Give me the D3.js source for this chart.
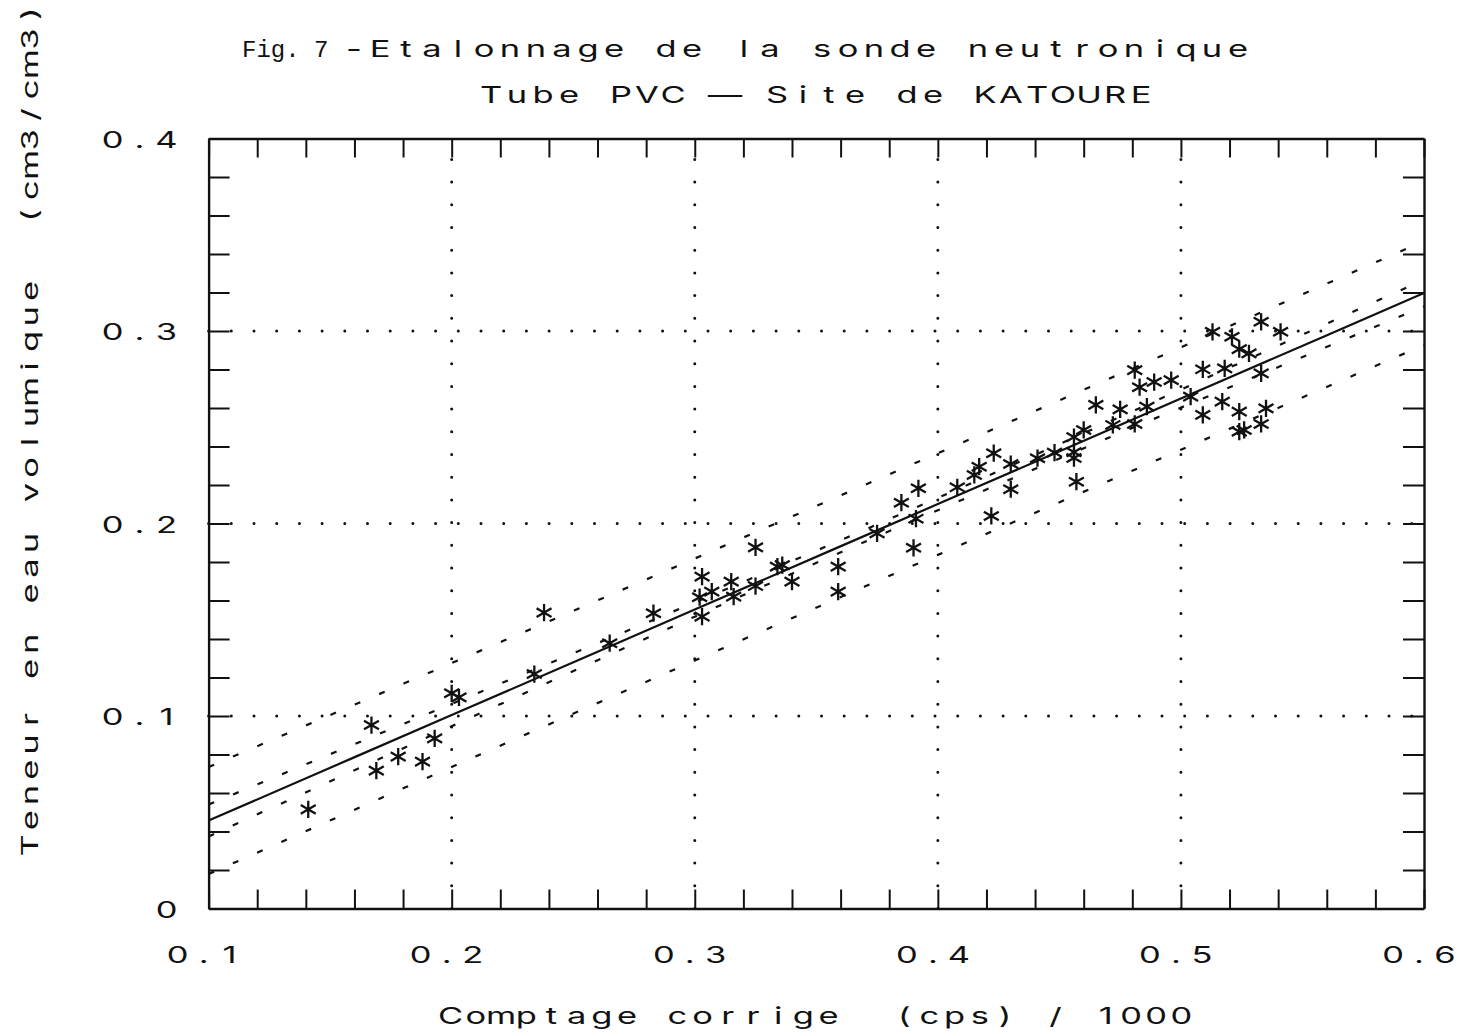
<!DOCTYPE html>
<html><head><meta charset="utf-8">
<script src="https://cdn.jsdelivr.net/npm/d3@7"></script>
<style>body{margin:0;background:#fff} svg{display:block} text{white-space:pre}</style>
</head><body>
<svg id="c" width="1462" height="1034"></svg>
<script>
// ---- data ----
const pointX = [0.141,0.167,0.169,0.178,0.188,0.193,0.200,0.203,0.238,0.234,
  0.265,0.283,0.303,0.302,0.303,0.307,0.315,0.316,0.325,0.325,
  0.334,0.336,0.340,0.359,0.359,0.375,0.385,0.392,0.391,0.390,
  0.408,0.415,0.417,0.423,0.430,0.430,0.422,0.441,0.448,0.456,
  0.456,0.456,0.457,0.460,0.465,0.475,0.472,0.481,0.481,0.483,
  0.489,0.496,0.486,0.504,0.509,0.509,0.513,0.521,0.524,0.528,
  0.518,0.517,0.524,0.524,0.526,0.533,0.541,0.533,0.535,0.533];
const pointY = [0.0515,0.0953,0.0716,0.0789,0.0763,0.0884,0.1118,0.1097,0.1537,0.1218,
  0.1378,0.1534,0.1724,0.1617,0.1516,0.1646,0.1698,0.1620,0.1675,0.1876,
  0.1776,0.1784,0.1698,0.1776,0.1646,0.1949,0.2108,0.2183,0.2025,0.1874,
  0.2188,0.2252,0.2295,0.2365,0.2309,0.2178,0.2039,0.2339,0.2368,0.2449,
  0.2371,0.2340,0.2217,0.2486,0.2616,0.2593,0.2512,0.2517,0.2797,0.2708,
  0.2735,0.2745,0.2607,0.2659,0.2801,0.2564,0.2996,0.2970,0.2906,0.2884,
  0.2806,0.2633,0.2581,0.2477,0.2486,0.3048,0.2996,0.2780,0.2598,0.2517];

const bandX      = [0.1, 0.2, 0.3, 0.4, 0.5, 0.6];
const fitY       = [0.0457, 0.1005, 0.1553, 0.2101, 0.2649, 0.3197];
const upperOuter = [0.0735, 0.1275, 0.1818, 0.2365, 0.2915, 0.3467];
const upperInner = [0.0540, 0.1063, 0.1590, 0.2133, 0.2696, 0.3267];
const lowerInner = [0.0374, 0.0947, 0.1516, 0.2069, 0.2602, 0.3127];
const lowerOuter = [0.0179, 0.0735, 0.1288, 0.1837, 0.2383, 0.2927];

const xTickValues = [0.1, 0.2, 0.3, 0.4, 0.5, 0.6];
const xTickLabels = ["0.1", "0.2", "0.3", "0.4", "0.5", "0.6"];
const yTickValues = [0, 0.1, 0.2, 0.3, 0.4];
const yTickLabels = ["0", "0.1", "0.2", "0.3", "0.4"];
const xGrid = [0.2, 0.3, 0.4, 0.5];
const yGrid = [0.1, 0.2, 0.3];

const titleFig = "Fig. 7";
const title1 = "-Etalonnage de la sonde neutronique";
const title2 = "Tube PVC \u2014 Site de KATOURE";
const xTitle = "Comptage corrige  (cps) / 1000";
const yTitle = "Teneur en eau volumique  (cm3/cm3)";

// ---- layout ----
const L = 208.6, R = 1424, T = 138.5, B = 908.5;
const svg = d3.select("#c");
const x = d3.scaleLinear().domain([0.1, 0.6]).range([L, R]);
const y = d3.scaleLinear().domain([0, 0.4]).range([B, T]);

// plotter-like text: one character per fixed-width cell
const FS = 23, SX = 1.5;
function ptext(str, x0, y0, adv, rot) {
  const g = svg.append("g")
    .attr("transform", `translate(${x0},${y0})${rot ? " rotate(-90)" : ""}`);
  g.selectAll("text").data(Array.from(str)).join("text")
    .attr("transform", (c, i) => `translate(${(i + 0.5) * adv},0) scale(${SX},1)`)
    .attr("text-anchor", "middle")
    .attr("font-family", "Inter, 'Open Sans', 'DejaVu Sans', sans-serif")
    .attr("font-weight", 400)
    .attr("font-size", FS)
    .attr("fill", "#111")
    .text(c => c);
  return g;
}

// grid (dotted)
const gridG = svg.append("g");
gridG.selectAll("line.vx").data(xGrid).join("line")
  .attr("class", "vx")
  .attr("x1", d => x(d)).attr("x2", d => x(d)).attr("y1", y(0)).attr("y2", y(0.4));
gridG.selectAll("line.hy").data(yGrid).join("line")
  .attr("class", "hy")
  .attr("x1", x(0.1)).attr("x2", x(0.6)).attr("y1", d => y(d)).attr("y2", d => y(d));
gridG.selectAll("line")
  .attr("stroke", "#111").attr("stroke-width", 3)
  .attr("stroke-linecap", "round").attr("stroke-dasharray", "0,22.7");

// axes with inward minor ticks
function styleAxis(g) {
  g.selectAll("path.domain").attr("stroke", "#111").attr("stroke-width", 2.4);
  g.selectAll(".tick line").attr("stroke", "#111").attr("stroke-width", 2);
  g.selectAll(".tick text").remove();
}
const xMinor = x.ticks(25), yMinor = y.ticks(20);
svg.append("g").attr("transform", `translate(0,${B})`)
  .call(d3.axisBottom(x).tickValues(xMinor).tickSize(-19).tickSizeOuter(0).tickFormat(""))
  .call(styleAxis);
svg.append("g").attr("transform", `translate(0,${T})`)
  .call(d3.axisTop(x).tickValues(xMinor).tickSize(-19).tickSizeOuter(0).tickFormat(""))
  .call(styleAxis);
svg.append("g").attr("transform", `translate(${L},0)`)
  .call(d3.axisLeft(y).tickValues(yMinor).tickSize(-21).tickSizeOuter(0).tickFormat(""))
  .call(styleAxis);
svg.append("g").attr("transform", `translate(${R},0)`)
  .call(d3.axisRight(y).tickValues(yMinor).tickSize(-21).tickSizeOuter(0).tickFormat(""))
  .call(styleAxis);

// bands (dashed)
const bandLine = vals => d3.line().curve(d3.curveNatural)
  .x((d, i) => x(bandX[i])).y(d => y(d))(vals);
[upperOuter, upperInner, lowerInner, lowerOuter].forEach(vals => {
  svg.append("path").attr("d", bandLine(vals))
    .attr("fill", "none").attr("stroke", "#111").attr("stroke-width", 2.2)
    .attr("stroke-dasharray", "6,20.5");
});
// fitted line
svg.append("path").attr("d", bandLine(fitY))
  .attr("fill", "none").attr("stroke", "#111").attr("stroke-width", 2.2);

// points (asterisks)
const sym = d3.symbol(d3.symbolAsterisk, 210);
svg.append("g").selectAll("path").data(pointX).join("path")
  .attr("transform", (d, i) => `translate(${x(d)},${y(pointY[i])})`)
  .attr("d", sym)
  .attr("fill", "none").attr("stroke", "#111").attr("stroke-width", 2.3);

// tick labels
xTickValues.forEach((v, i) => {
  const s = xTickLabels[i], adv = 26;
  ptext(s, x(v) - 5 - s.length * adv / 2, B + 54, adv);
});
yTickValues.forEach((v, i) => {
  const s = yTickLabels[i], adv = 27;
  ptext(s, 180 - s.length * adv, y(v) + 9, adv);
});

// titles
svg.append("text").attr("x", 242).attr("y", 57)
  .attr("font-family", "Liberation Mono").attr("font-size", 24).attr("fill", "#111")
  .text(titleFig);
ptext(title1, 341, 57, 26);
ptext(title2, 478, 103, 26);
ptext(xTitle, 438, 1024, 25.2);
ptext(yTitle, 38, 858, 25.2, true);
</script>
</body></html>
